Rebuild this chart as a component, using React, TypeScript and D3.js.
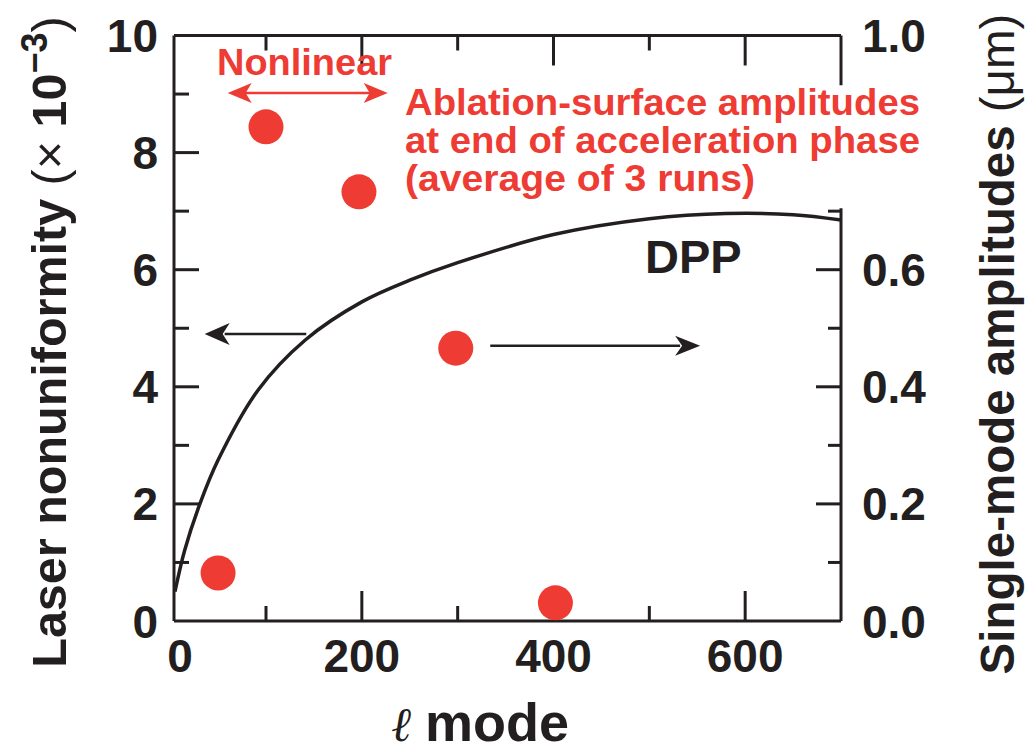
import React from "react";
import * as d3 from "d3";

// ---- data ----
const dotModes = [50, 100, 197, 298, 402];
const dotAmps = [0.082, 0.844, 0.733, 0.466, 0.031];

const dppModes = [5, 15, 31, 50, 92, 141, 200, 250, 300, 400, 500, 580, 650, 700];
const dppValues = [0.5, 1.2, 2.0, 2.75, 3.95, 4.8, 5.45, 5.82, 6.12, 6.6, 6.87, 6.96, 6.94, 6.85];

const xLabelValues = [0, 200, 400, 600];
const xMajorTicks = [200, 400, 600];
const xMinorTicks = [100, 300, 500];
const leftLabelValues = [0, 2, 4, 6, 8, 10];
const leftMajorTicks = [2, 4, 6, 8];
const leftMinorTicks = [1, 3, 5, 7, 9];
const rightLabels = ["0.0", "0.2", "0.4", "0.6", "1.0"];
const rightMajorTicks = [0.2, 0.4, 0.6, 0.8];
const rightMinorTicks = [0.1, 0.3, 0.5, 0.7, 0.9];
const rightAxisGap = [0.705, 0.915];

const FONT = "'Liberation Sans', Arial, Helvetica, sans-serif";
const INK = "#231f20";
const RED = "#ee3b33";

export default function App() {
  const W = 1027, H = 752;
  const x = d3.scaleLinear().domain([4, 700]).range([174, 841]);
  const yL = d3.scaleLinear().domain([0, 10]).range([621, 35.5]);
  const yR = d3.scaleLinear().domain([0, 1]).range([621, 35.5]);
  const [x0, x1] = x.range();
  const [yB, yT] = yL.range();

  const line = d3
    .line<number>()
    .x((_, i) => x(dppModes[i]))
    .y((d) => yL(d))
    .curve(d3.curveCatmullRom.alpha(0.5));

  const inGap = (v: number) => v > rightAxisGap[0] && v < rightAxisGap[1];

  const arrowHead = (tx: number, ty: number, dir: number, len: number, half: number, notch: number) => {
    const bx = tx - dir * len;
    const nx = tx - dir * (len - notch);
    return `M${tx},${ty} L${bx},${ty - half} L${nx},${ty} L${bx},${ty + half} Z`;
  };

  const sw = 3;
  const hMaj = 30, hMin = 15, vMaj = 25, vMin = 15;

  const leftArrow = { from: 142, to: 36, y: 4.9 };
  const rightArrow = { from: 334, to: 553, y: 4.7 };
  const redArrow = { from: 60, to: 227, y: 9.02 };

  return (
    <svg width={W} height={H} style={{ display: "block", position: "absolute", left: 0, top: 0 }} fontFamily={FONT}>
      <rect width={W} height={H} fill="#fff" />
      {/* frame */}
      <line x1={x0} x2={x1} y1={yB} y2={yB} stroke={INK} strokeWidth={sw} />
      <line x1={x0} x2={x1} y1={yT} y2={yT} stroke={INK} strokeWidth={sw} />
      <line x1={x0} x2={x0} y1={yB} y2={yT} stroke={INK} strokeWidth={sw} />
      <line x1={x1} x2={x1} y1={yR(0)} y2={yR(rightAxisGap[0])} stroke={INK} strokeWidth={sw} />
      <line x1={x1} x2={x1} y1={yR(rightAxisGap[1])} y2={yR(1)} stroke={INK} strokeWidth={sw} />

      {xMajorTicks.map((v) => (
        <g key={"xM" + v}>
          <line x1={x(v)} x2={x(v)} y1={yB} y2={yB - hMaj} stroke={INK} strokeWidth={sw} />
          <line x1={x(v)} x2={x(v)} y1={yT} y2={yT + hMaj} stroke={INK} strokeWidth={sw} />
        </g>
      ))}
      {xMinorTicks.map((v) => (
        <g key={"xm" + v}>
          <line x1={x(v)} x2={x(v)} y1={yB} y2={yB - hMin} stroke={INK} strokeWidth={sw} />
          <line x1={x(v)} x2={x(v)} y1={yT} y2={yT + hMin} stroke={INK} strokeWidth={sw} />
        </g>
      ))}
      {leftMajorTicks.map((v) => (
        <line key={"lM" + v} x1={x0} x2={x0 + vMaj} y1={yL(v)} y2={yL(v)} stroke={INK} strokeWidth={sw} />
      ))}
      {leftMinorTicks.map((v) => (
        <line key={"lm" + v} x1={x0} x2={x0 + vMin} y1={yL(v)} y2={yL(v)} stroke={INK} strokeWidth={sw} />
      ))}
      {rightMajorTicks.filter((v) => !inGap(v)).map((v) => (
        <line key={"rM" + v} x1={x1} x2={x1 - vMaj} y1={yR(v)} y2={yR(v)} stroke={INK} strokeWidth={sw} />
      ))}
      {rightMinorTicks.filter((v) => !inGap(v) || v === 0.7).map((v) => (
        <line key={"rm" + v} x1={x1} x2={x1 - 13} y1={yR(v)} y2={yR(v)} stroke={INK} strokeWidth={sw} />
      ))}

      {xLabelValues.map((v) => (
        <text key={"xl" + v} x={x(v) + (v === 0 ? 10 : 0)} y={672} fontSize={46} fontWeight="bold" textAnchor="middle" fill={INK}>
          {v}
        </text>
      ))}
      {leftLabelValues.map((v) => (
        <text key={"ll" + v} x={158} y={yL(v)} dy="0.36em" fontSize={46} fontWeight="bold" textAnchor="end" fill={INK}>
          {v}
        </text>
      ))}
      {rightLabels.map((s) => (
        <text key={"rl" + s} x={862} y={yR(+s)} dy="0.36em" fontSize={46} fontWeight="bold" textAnchor="start" fill={INK}>
          {s}
        </text>
      ))}

      {/* axis titles */}
      <text x={480} y={741} fontSize={54} textAnchor="middle" fill={INK}>
        <tspan fontFamily="'DejaVu Serif', serif" fontStyle="italic" fontWeight="normal" fontSize={48}>ℓ</tspan>
        <tspan fontWeight="bold" dx={14}>mode</tspan>
      </text>
      <text transform={`translate(66,342) rotate(-90)`} fontSize={48.5} textAnchor="middle" fill={INK}>
        <tspan fontWeight="bold">Laser nonuniformity </tspan>
        <tspan fontWeight="normal">(× </tspan>
        <tspan fontWeight="bold">10</tspan>
        <tspan fontWeight="bold" fontSize={36} dy={-19}>−3</tspan>
        <tspan fontWeight="normal" dy={19}>)</tspan>
      </text>
      <text transform={`translate(1014,344) rotate(-90)`} fontSize={47.5} textAnchor="middle" fill={INK}>
        <tspan fontWeight="bold">Single-mode amplitudes </tspan>
        <tspan fontWeight="normal">(μm)</tspan>
      </text>

      <path d={line(dppValues) || ""} fill="none" stroke={INK} strokeWidth={3.5} />

      <line x1={x(leftArrow.from)} x2={x(leftArrow.to) + 20} y1={yL(leftArrow.y)} y2={yL(leftArrow.y)} stroke={INK} strokeWidth={2.5} />
      <path d={arrowHead(x(leftArrow.to), yL(leftArrow.y), -1, 25, 11, 7)} fill={INK} />
      <line x1={x(rightArrow.from)} x2={x(rightArrow.to) - 20} y1={yL(rightArrow.y)} y2={yL(rightArrow.y)} stroke={INK} strokeWidth={2.5} />
      <path d={arrowHead(x(rightArrow.to), yL(rightArrow.y), 1, 25, 10, 7)} fill={INK} />

      <line x1={x(redArrow.from) + 15} x2={x(redArrow.to) - 15} y1={yL(redArrow.y)} y2={yL(redArrow.y)} stroke={RED} strokeWidth={2.5} />
      <path d={arrowHead(x(redArrow.from), yL(redArrow.y), -1, 24, 10, 6)} fill={RED} />
      <path d={arrowHead(x(redArrow.to), yL(redArrow.y), 1, 24, 10, 6)} fill={RED} />

      <text x={217} y={75} fontSize={37} fontWeight="bold" textLength={175} lengthAdjust="spacingAndGlyphs" fill={RED}>Nonlinear</text>
      <g fontSize={36} fontWeight="bold" fill={RED}>
        <text x={405} y={115} textLength={515} lengthAdjust="spacingAndGlyphs">Ablation-surface amplitudes</text>
        <text x={405} y={153} textLength={515} lengthAdjust="spacingAndGlyphs">at end of acceleration phase</text>
        <text x={405} y={191} textLength={350} lengthAdjust="spacingAndGlyphs">(average of 3 runs)</text>
      </g>
      <text x={645} y={273} fontSize={47} fontWeight="bold" fill={INK}>DPP</text>

      {dotModes.map((m, i) => (
        <circle key={"d" + i} cx={x(m)} cy={yR(dotAmps[i])} r={17.5} fill={RED} />
      ))}
    </svg>
  );
}
